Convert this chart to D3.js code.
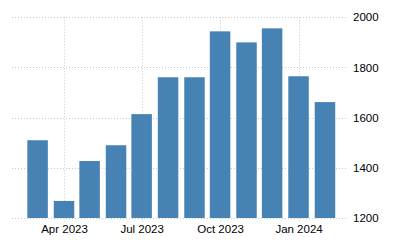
<!DOCTYPE html>
<html>
<head>
<meta charset="utf-8">
<script src="https://cdn.jsdelivr.net/npm/d3@7"></script>
<style>
  body { margin: 0; background: #fff; }
  svg { display: block; font-family: "Liberation Sans", Arial, sans-serif; }
</style>
</head>
<body>
<div id="chart"></div>
<script>
const width = 400;
const height = 250;

// months shown as bars (first day of month)
const months = ["2023-03", "2023-04", "2023-05", "2023-06", "2023-07", "2023-08",
                "2023-09", "2023-10", "2023-11", "2023-12", "2024-01", "2024-02"];
const values = [1510, 1268, 1427, 1490, 1614, 1761, 1761, 1944, 1900, 1956, 1765, 1662];
const xTicks = ["2023-04", "2023-07", "2023-10", "2024-01"];
const yTicks = [1200, 1400, 1600, 1800, 2000];

const parse = d3.timeParse("%Y-%m");
const data = months.map((m, i) => ({date: parse(m), value: values[i]}));

var xScale = d3.scaleTime()
    .domain([new Date(2023, 0, 30), new Date(2024, 1, 28)])
    .range([12, 348]);

var yScale = d3.scaleLinear()
    .domain([1200, 2000])
    .range([218, 17.3]);

var svg = d3.select('#chart')
    .append('svg')
    .attr('width', width)
    .attr('height', height);

// horizontal grid
svg.append('g')
    .selectAll('line')
    .data(yTicks)
    .join('line')
        .attr('x1', xScale.range()[0])
        .attr('x2', xScale.range()[1])
        .attr('y1', d => Math.round(yScale(d)) + 0.5)
        .attr('y2', d => Math.round(yScale(d)) + 0.5)
        .attr('stroke', '#c8c8c8')
        .attr('stroke-dasharray', '1,2');

// vertical grid + small ticks
svg.append('g')
    .selectAll('line')
    .data(xTicks.map(parse))
    .join('line')
        .attr('x1', d => Math.round(xScale(d)) + 0.5)
        .attr('x2', d => Math.round(xScale(d)) + 0.5)
        .attr('y1', yScale(2000))
        .attr('y2', yScale(1200) + 4)
        .attr('stroke', '#c8c8c8')
        .attr('stroke-dasharray', '1,2');

// bars
const barWidth = 20.5;
svg.append('g')
    .selectAll('rect')
    .data(data)
    .join('rect')
        .attr('x', d => xScale(d.date) - barWidth / 2)
        .attr('y', d => yScale(d.value))
        .attr('width', barWidth)
        .attr('height', d => yScale(1200) - yScale(d.value))
        .attr('fill', '#4682b4');

// y axis labels (right side)
var yAxis = svg.append('g')
    .attr('transform', `translate(353, 0)`)
    .call(d3.axisRight(yScale).tickValues(yTicks).tickFormat(d3.format("d")).tickSize(0).tickPadding(0));
yAxis.select('.domain').remove();
yAxis.selectAll('text')
    .attr('font-family', 'Liberation Sans, Arial, sans-serif')
    .attr('font-size', '11.5px')
    .attr('fill', '#000');

// x axis labels
var xAxis = svg.append('g')
    .attr('transform', `translate(0, ${yScale(1200)})`)
    .call(d3.axisBottom(xScale)
        .tickValues(xTicks.map(parse))
        .tickFormat(d3.timeFormat("%b %Y"))
        .tickSize(0)
        .tickPadding(7));
xAxis.select('.domain').remove();
xAxis.selectAll('text')
    .attr('font-family', 'Liberation Sans, Arial, sans-serif')
    .attr('font-size', '11.5px')
    .attr('fill', '#000');
</script>
</body>
</html>
